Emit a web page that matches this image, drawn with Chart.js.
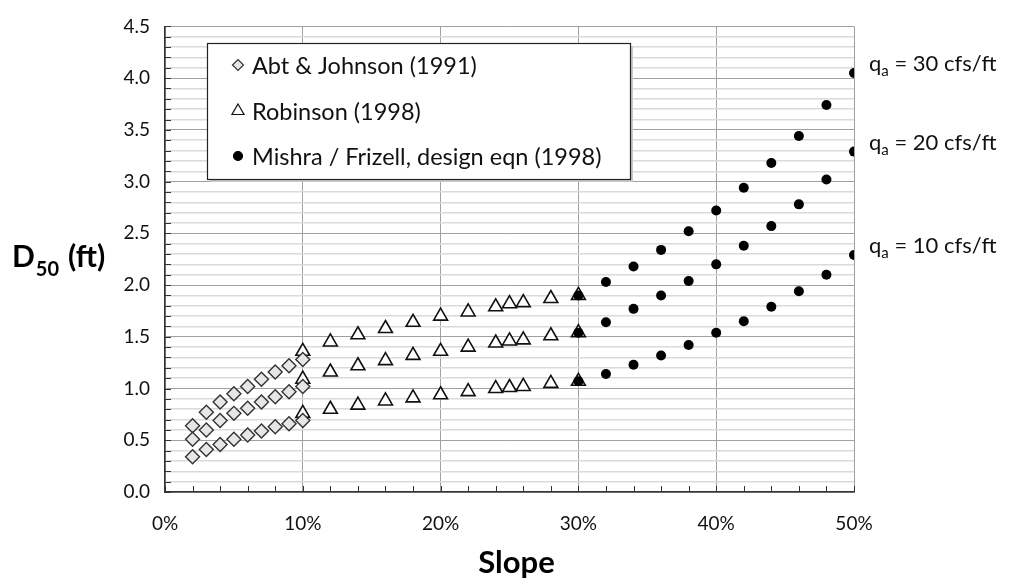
<!DOCTYPE html>
<html>
<head>
<meta charset="utf-8">
<script src="https://cdn.jsdelivr.net/npm/chart.js@4.4.0/dist/chart.umd.min.js"></script>
<style>
  html, body { margin: 0; padding: 0; background: #fff; }
  #wrap { width: 1011px; height: 579px; position: relative; }
</style>
</head>
<body>
<div id="wrap"><canvas id="d50-chart"></canvas></div>
<script>
const FONT = 'Lato, "Open Sans", sans-serif';

// Abt & Johnson (1991), slopes 2-10 %
const abtSlope = [0.02, 0.03, 0.04, 0.05, 0.06, 0.07, 0.08, 0.09, 0.10];
const abtQ10 = [0.34, 0.41, 0.46, 0.51, 0.55, 0.59, 0.63, 0.66, 0.69];
const abtQ20 = [0.51, 0.60, 0.69, 0.76, 0.81, 0.87, 0.92, 0.97, 1.02];
const abtQ30 = [0.64, 0.77, 0.87, 0.95, 1.02, 1.09, 1.16, 1.22, 1.28];

// Robinson (1998), slopes 10-30 %
const robSlope = [0.10, 0.12, 0.14, 0.16, 0.18, 0.20, 0.22, 0.24, 0.25, 0.26, 0.28, 0.30];
const robQ10 = [0.76, 0.80, 0.84, 0.88, 0.91, 0.94, 0.97, 1.00, 1.01, 1.02, 1.05, 1.07];
const robQ20 = [1.09, 1.16, 1.22, 1.27, 1.32, 1.36, 1.40, 1.44, 1.46, 1.47, 1.51, 1.54];
const robQ30 = [1.36, 1.45, 1.52, 1.58, 1.64, 1.70, 1.74, 1.79, 1.82, 1.83, 1.87, 1.90];

// Mishra / Frizell design equation (1998), slopes 30-50 %
const mfSlope = [0.30, 0.32, 0.34, 0.36, 0.38, 0.40, 0.42, 0.44, 0.46, 0.48, 0.50];
const mfQ10 = [1.07, 1.14, 1.23, 1.32, 1.42, 1.54, 1.65, 1.79, 1.94, 2.10, 2.29];
const mfQ20 = [1.54, 1.64, 1.77, 1.90, 2.04, 2.20, 2.38, 2.57, 2.78, 3.02, 3.29];
const mfQ30 = [1.90, 2.03, 2.18, 2.34, 2.52, 2.72, 2.94, 3.18, 3.44, 3.74, 4.05];

const legendLabels = ['Abt & Johnson (1991)', 'Robinson (1998)', 'Mishra / Frizell, design eqn (1998)'];
const flowLabels = ['30 cfs/ft', '20 cfs/ft', '10 cfs/ft'];
const flowLabelAt = [4.05, 3.29, 2.29];

const xTickLabels = ['0%', '10%', '20%', '30%', '40%', '50%'];

function pts(xs, ys) {
  return xs.map((x, i) => ({ x: x, y: ys[i] }));
}

const diamond = { pointStyle: 'rectRot', pointRadius: 7, backgroundColor: '#e6e6e6', borderColor: '#333', pointBorderWidth: 1.4 };
const triangle = { pointStyle: 'triangle', pointRadius: 8, backgroundColor: '#fff', borderColor: '#111', pointBorderWidth: 1.6 };
const dot = { pointStyle: 'circle', pointRadius: 5, backgroundColor: '#000', borderColor: '#000', pointBorderWidth: 0 };

const datasets = [
  Object.assign({ data: pts(mfSlope, mfQ10) }, dot),
  Object.assign({ data: pts(mfSlope, mfQ20) }, dot),
  Object.assign({ data: pts(mfSlope, mfQ30) }, dot),
  Object.assign({ data: pts(abtSlope, abtQ10) }, diamond),
  Object.assign({ data: pts(abtSlope, abtQ20) }, diamond),
  Object.assign({ data: pts(abtSlope, abtQ30) }, diamond),
  Object.assign({ data: pts(robSlope, robQ10) }, triangle),
  Object.assign({ data: pts(robSlope, robQ20) }, triangle),
  Object.assign({ data: pts(robSlope, robQ30) }, triangle)
];
datasets.forEach(d => { d.showLine = false; });

const isMult = (v, step) => Math.abs(v / step - Math.round(v / step)) < 1e-6;

// inward tick marks, legend box, titles and flow-rate notes
const extras = {
  id: 'extras',
  afterDatasetsDraw(chart) {
    const ctx = chart.ctx;
    const area = chart.chartArea;
    const xs = chart.scales.x, ys = chart.scales.y;
    ctx.save();

    // tick marks inside the plot
    ctx.strokeStyle = '#333';
    ctx.lineWidth = 1;
    ys.ticks.forEach(t => {
      const y = Math.round(ys.getPixelForValue(t.value)) + 0.5;
      ctx.beginPath(); ctx.moveTo(area.left, y); ctx.lineTo(area.left + 6, y); ctx.stroke();
    });
    xs.ticks.forEach(t => {
      const x = Math.round(xs.getPixelForValue(t.value)) + 0.5;
      ctx.beginPath(); ctx.moveTo(x, area.bottom); ctx.lineTo(x, area.bottom - 6); ctx.stroke();
    });

    // legend
    const lx = 207, ly = 43, lw = 423, lh = 136;
    ctx.fillStyle = '#c8c8c8';
    ctx.fillRect(lx + 3, ly + 3, lw, lh);
    ctx.fillStyle = '#fff';
    ctx.fillRect(lx, ly, lw, lh);
    ctx.strokeStyle = '#222';
    ctx.lineWidth = 1.2;
    ctx.strokeRect(lx + 0.5, ly + 0.5, lw, lh);

    const styles = [diamond, triangle, dot];
    const rows = [65, 111, 156];
    const radii = [5.5, 7, 4.5];
    ctx.font = '23.5px ' + FONT;
    ctx.textBaseline = 'middle';
    ctx.textAlign = 'left';
    styles.forEach((s, i) => {
      ctx.fillStyle = s.backgroundColor;
      ctx.strokeStyle = s.borderColor;
      ctx.lineWidth = s.pointBorderWidth ? 1.2 : 0;
      Chart.helpers.drawPoint(ctx, { pointStyle: s.pointStyle, radius: radii[i], borderWidth: ctx.lineWidth }, 238, rows[i]);
      ctx.fillStyle = '#111';
      ctx.fillText(legendLabels[i], 252, rows[i] + 1);
    });

    // flow-rate notes beside the last points
    ctx.textBaseline = 'alphabetic';
    flowLabels.forEach((txt, i) => {
      const y = ys.getPixelForValue(flowLabelAt[i]) - 2;
      let x = 869;
      ctx.fillStyle = '#111';
      ctx.font = '22px ' + FONT;
      ctx.fillText('q', x, y);
      x += ctx.measureText('q').width;
      ctx.font = '15px ' + FONT;
      ctx.fillText('a', x, y + 5);
      x += ctx.measureText('a').width;
      ctx.font = '22px ' + FONT;
      ctx.fillText(' = ' + txt, x, y);
    });

    // axis titles
    ctx.fillStyle = '#000';
    ctx.font = 'bold 30px ' + FONT;
    let tx = 12;
    const ty = 267;
    ctx.fillText('D', tx, ty);
    tx += ctx.measureText('D').width + 1;
    ctx.font = 'bold 20px ' + FONT;
    ctx.fillText('50', tx, ty + 9);
    tx += ctx.measureText('50').width + 9;
    ctx.font = 'bold 30px ' + FONT;
    ctx.fillText('(ft)', tx, ty);

    ctx.textAlign = 'center';
    ctx.textBaseline = 'middle';
    ctx.font = 'bold 31px ' + FONT;
    ctx.fillText('Slope', (area.left + area.right) / 2 + 7, 563);
    ctx.restore();
  }
};

new Chart(document.getElementById('d50-chart'), {
  type: 'scatter',
  data: { datasets: datasets },
  plugins: [extras],
  options: {
    responsive: true,
    maintainAspectRatio: false,
    animation: false,
    events: [],
    layout: { padding: { left: 0, right: 157, top: 18, bottom: 0 } },
    plugins: { legend: { display: false }, tooltip: { enabled: false } },
    scales: {
      x: {
        type: 'linear', min: 0, max: 0.5,
        afterFit: s => { s.height = 87; },
        border: { color: '#333', width: 1.5 },
        grid: {
          drawTicks: false,
          color: c => isMult(c.tick.value, 0.1) ? '#a0a0a0' : 'rgba(0,0,0,0)',
          lineWidth: 1
        },
        ticks: {
          stepSize: 0.02, autoSkip: false, maxRotation: 0, padding: 20,
          color: '#111', font: { family: FONT, size: 19 },
          callback: v => isMult(v, 0.1) ? xTickLabels[Math.round(v * 10)] : ''
        }
      },
      y: {
        type: 'linear', min: 0, max: 4.5,
        afterFit: s => { s.width = 165; },
        border: { color: '#333', width: 1.5 },
        grid: {
          drawTicks: false,
          color: c => isMult(c.tick.value, 0.5) ? '#a0a0a0' : '#dadada',
          lineWidth: c => isMult(c.tick.value, 0.5) ? 1 : 1.5
        },
        ticks: {
          stepSize: 0.1, autoSkip: false, padding: 15,
          color: '#111', font: { family: FONT, size: 19 },
          callback: v => isMult(v, 0.5) ? v.toFixed(1) : ''
        }
      }
    }
  }
});
</script>
</body>
</html>
